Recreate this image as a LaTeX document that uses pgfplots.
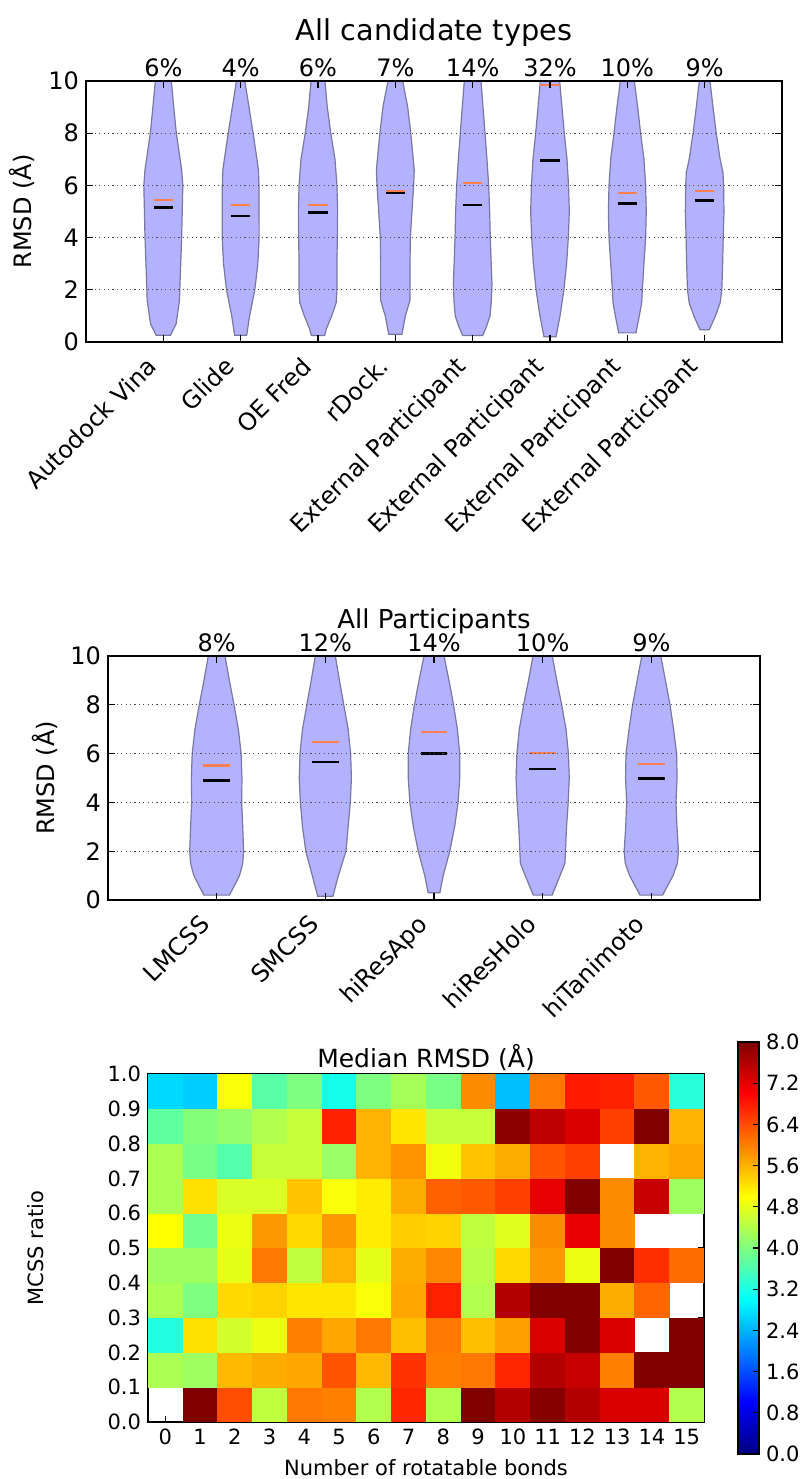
\documentclass[border=0pt]{standalone}
\usepackage{fontspec}
\setmainfont{DejaVu Sans}
\usepackage{pgfplots}
\pgfplotsset{compat=1.18}

\definecolor{vfill}{RGB}{178,178,255}
\definecolor{vedge}{RGB}{120,120,160}
\definecolor{meanc}{RGB}{255,127,80}

\pgfplotsset{
  /pgf/number format/assume math mode=true,
  violinax/.style={
    scale only axis, axis on top, clip=false,
    ymin=0, ymax=10, ytick={0,2,4,6,8,10},
    tick align=inside, xtick pos=both, ytick pos=both,
    major tick length=3.5pt,
    axis line style={line width=0.8pt},
    every tick/.style={black, line width=0.6pt},
    ymajorgrids, grid style={black!70, line width=0.6pt, dash pattern=on 0.6pt off 1.6pt},
    ticklabel style={font=\fontsize{12}{14}\selectfont},
    xticklabel style={xshift=-9pt, yshift=-5pt, rotate=45, anchor=north east, inner sep=1pt},
    ylabel={RMSD (Å)},
    label style={font=\fontsize{12}{14}\selectfont},
    title style={at={(0.5,1)}, anchor=base},
  },
  vio/.style={fill=vfill, draw=vedge, line width=0.6pt},
  med/.style={black, line width=1.2pt, unbounded coords=jump},
  mea/.style={meanc, line width=1.1pt, unbounded coords=jump},
  pct/.style={draw=none, mark=none, nodes near coords, point meta=explicit symbolic,
    every node near coord/.style={anchor=base, yshift=2pt, inner sep=0pt, font=\fontsize{12}{14}\selectfont}},
}

\pgfplotstableread{
x y v
1 0.05 8.0
2 0.05 6.4
3 0.05 4.5
4 0.05 6.05
5 0.05 6.0
6 0.05 4.4
7 0.05 6.7
8 0.05 4.4
9 0.05 8.0
10 0.05 7.6
11 0.05 7.95
12 0.05 7.6
13 0.05 7.3
14 0.05 7.3
15 0.05 4.4
0 0.15 4.35
1 0.15 4.25
2 0.15 5.55
3 0.15 5.65
4 0.15 5.7
5 0.15 6.35
6 0.15 5.55
7 0.15 6.6
8 0.15 6.0
9 0.15 6.05
10 0.15 6.7
11 0.15 7.6
12 0.15 7.45
13 0.15 6.0
14 0.15 8.0
15 0.15 8.0
0 0.25 3.25
1 0.25 5.25
2 0.25 4.65
3 0.25 4.85
4 0.25 6.0
5 0.25 5.7
6 0.25 6.05
7 0.25 5.5
8 0.25 6.05
9 0.25 5.5
10 0.25 5.75
11 0.25 7.3
12 0.25 8.0
13 0.25 7.3
15 0.25 8.0
0 0.35 4.35
1 0.35 4.0
2 0.35 5.3
3 0.35 5.35
4 0.35 5.2
5 0.35 5.2
6 0.35 4.95
7 0.35 5.7
8 0.35 6.75
9 0.35 4.4
10 0.35 7.6
11 0.35 8.0
12 0.35 8.0
13 0.35 5.65
14 0.35 6.2
0 0.45 4.25
1 0.45 4.25
2 0.45 4.8
3 0.45 6.05
4 0.45 4.5
5 0.45 5.6
6 0.45 4.8
7 0.45 5.65
8 0.45 5.95
9 0.45 4.45
10 0.45 5.3
11 0.45 5.8
12 0.45 4.85
13 0.45 8.0
14 0.45 6.65
15 0.45 6.15
0 0.55 5.0
1 0.55 3.9
2 0.55 4.85
3 0.55 5.8
4 0.55 5.3
5 0.55 5.8
6 0.55 5.15
7 0.55 5.4
8 0.55 5.35
9 0.55 4.5
10 0.55 4.75
11 0.55 5.9
12 0.55 7.2
13 0.55 5.9
0 0.65 4.35
1 0.65 5.25
2 0.65 4.7
3 0.65 4.7
4 0.65 5.45
5 0.65 4.95
6 0.65 5.15
7 0.65 5.65
8 0.65 6.25
9 0.65 6.3
10 0.65 6.5
11 0.65 7.2
12 0.65 8.0
13 0.65 5.9
14 0.65 7.45
15 0.65 4.25
0 0.75 4.35
1 0.75 3.95
2 0.75 3.65
3 0.75 4.55
4 0.75 4.55
5 0.75 4.2
6 0.75 5.6
7 0.75 5.85
8 0.75 4.9
9 0.75 5.45
10 0.75 5.65
11 0.75 6.35
12 0.75 6.5
14 0.75 5.6
15 0.75 5.7
0 0.85 3.75
1 0.85 4.05
2 0.85 4.15
3 0.85 4.4
4 0.85 4.55
5 0.85 6.75
6 0.85 5.6
7 0.85 5.2
8 0.85 4.55
9 0.85 4.55
10 0.85 7.9
11 0.85 7.5
12 0.85 7.3
13 0.85 6.5
14 0.85 8.0
15 0.85 5.6
0 0.95 2.7
1 0.95 2.6
2 0.95 4.95
3 0.95 3.7
4 0.95 4.0
5 0.95 3.15
6 0.95 4.0
7 0.95 4.3
8 0.95 3.95
9 0.95 5.9
10 0.95 2.5
11 0.95 6.05
12 0.95 6.8
13 0.95 6.75
14 0.95 6.3
15 0.95 3.3
}\heatdata

\begin{document}
\begin{tikzpicture}
\useasboundingbox (0,0) rectangle (402pt,739.5pt);

% --- all candidate types
\begin{axis}[violinax, at={(43pt,568.5pt)}, anchor=south west,
  width=348pt, height=130.5pt,
  xmin=0, xmax=9, xtick={1,2,3,4,5,6,7,8},
  xticklabels={Autodock Vina,Glide,OE Fred,rDock.,External Participant,External Participant,External Participant,External Participant},
  title={All candidate types},
  title style={font=\fontsize{14.4}{16}\selectfont, yshift=14.25pt},
  ylabel style={at={(axis description cs:-0.092,0.5)}, anchor=center},
]
\addplot[vio] coordinates {(0.907,0.26) (0.834,0.7) (0.791,1.6) (0.787,2) (0.763,4) (0.748,6) (0.763,6.6) (0.832,8) (0.865,9) (0.897,10)
  (1.103,10) (1.135,9) (1.168,8) (1.237,6.6) (1.252,6) (1.237,4) (1.213,2) (1.209,1.6) (1.166,0.7) (1.093,0.26)} -- cycle;
\addplot[vio] coordinates {(1.922,0.26) (1.884,1) (1.817,2) (1.778,3) (1.761,4) (1.763,6) (1.77,6.6) (1.789,7) (1.839,8) (1.892,9) (1.946,10)
  (2.054,10) (2.108,9) (2.161,8) (2.211,7) (2.23,6.6) (2.237,6) (2.239,4) (2.222,3) (2.183,2) (2.116,1) (2.078,0.26)} -- cycle;
\addplot[vio] coordinates {(2.914,0.25) (2.892,0.5) (2.823,1) (2.765,1.5) (2.755,2) (2.755,3) (2.75,4) (2.746,5) (2.755,6) (2.78,7) (2.835,8) (2.88,9) (2.91,10)
  (3.09,10) (3.12,9) (3.165,8) (3.22,7) (3.245,6) (3.254,5) (3.25,4) (3.245,3) (3.245,2) (3.235,1.5) (3.177,1) (3.108,0.5) (3.086,0.25)} -- cycle;
\addplot[vio] coordinates {(3.914,0.3) (3.87,1) (3.81,1.6) (3.81,2) (3.81,3) (3.806,4) (3.785,5) (3.763,6) (3.755,6.6) (3.768,7) (3.8,8) (3.84,9) (3.905,10)
  (4.095,10) (4.16,9) (4.2,8) (4.232,7) (4.245,6.6) (4.237,6) (4.215,5) (4.194,4) (4.19,3) (4.19,2) (4.19,1.6) (4.13,1) (4.086,0.3)} -- cycle;
\addplot[vio] coordinates {(4.87,0.25) (4.82,0.6) (4.775,1) (4.76,1.5) (4.75,2.2) (4.76,3) (4.772,4) (4.78,5) (4.793,6) (4.815,7) (4.84,8) (4.866,9) (4.892,10)
  (5.108,10) (5.134,9) (5.16,8) (5.185,7) (5.207,6) (5.22,5) (5.228,4) (5.24,3) (5.25,2.2) (5.24,1.5) (5.225,1) (5.18,0.6) (5.13,0.25)} -- cycle;
\addplot[vio] coordinates {(5.922,0.2) (5.87,1) (5.82,2) (5.785,3) (5.763,4) (5.75,5) (5.76,6) (5.78,7) (5.815,8) (5.845,9) (5.875,10)
  (6.125,10) (6.155,9) (6.185,8) (6.22,7) (6.24,6) (6.25,5) (6.237,4) (6.215,3) (6.18,2) (6.13,1) (6.078,0.2)} -- cycle;
\addplot[vio] coordinates {(6.888,0.35) (6.845,1) (6.815,1.5) (6.806,2) (6.785,3) (6.763,4) (6.755,5) (6.763,6) (6.785,7) (6.828,8) (6.866,9) (6.91,10)
  (7.09,10) (7.134,9) (7.172,8) (7.215,7) (7.237,6) (7.245,5) (7.237,4) (7.215,3) (7.194,2) (7.185,1.5) (7.155,1) (7.112,0.35)} -- cycle;
\addplot[vio] coordinates {(7.94,0.47) (7.86,1) (7.8,1.5) (7.778,2) (7.767,3) (7.76,4) (7.75,5) (7.755,6) (7.763,6.5) (7.8,7) (7.85,8) (7.892,9) (7.931,10)
  (8.069,10) (8.108,9) (8.15,8) (8.2,7) (8.237,6.5) (8.245,6) (8.25,5) (8.24,4) (8.233,3) (8.222,2) (8.2,1.5) (8.14,1) (8.06,0.47)} -- cycle;
% means and medians
\addplot[mea] coordinates {(0.875,5.43) (1.125,5.43) (1,nan) (1.875,5.25) (2.125,5.25) (2,nan) (2.875,5.25) (3.125,5.25) (3,nan)
  (3.875,5.80) (4.125,5.80) (4,nan) (4.875,6.09) (5.125,6.09) (5,nan) (5.875,9.85) (6.125,9.85) (6,nan)
  (6.875,5.70) (7.125,5.70) (7,nan) (7.875,5.77) (8.125,5.77)};
\addplot[med] coordinates {(0.875,5.15) (1.125,5.15) (1,nan) (1.875,4.83) (2.125,4.83) (2,nan) (2.875,4.96) (3.125,4.96) (3,nan)
  (3.875,5.70) (4.125,5.70) (4,nan) (4.875,5.24) (5.125,5.24) (5,nan) (5.875,6.96) (6.125,6.96) (6,nan)
  (6.875,5.30) (7.125,5.30) (7,nan) (7.875,5.42) (8.125,5.42)};
\addplot[pct] coordinates {(1,10) [6\%] (2,10) [4\%] (3,10) [6\%] (4,10) [7\%] (5,10) [14\%] (6,10) [32\%] (7,10) [10\%] (8,10) [9\%]};
\end{axis}

% --- all participants
\begin{axis}[violinax, at={(54pt,289.5pt)}, anchor=south west,
  width=326pt, height=122pt,
  xmin=0, xmax=6, xtick={1,2,3,4,5},
  xticklabels={LMCSS,SMCSS,hiResApo,hiResHolo,hiTanimoto},
  title={All Participants},
  title style={font=\fontsize{13}{15}\selectfont, yshift=7.5pt},
  ylabel style={at={(axis description cs:-0.0966,0.5)}, anchor=center},
]
\addplot[vio] coordinates {(0.883,0.2) (0.847,0.5) (0.79,1) (0.76,1.5) (0.752,2) (0.76,3) (0.77,4) (0.767,5) (0.775,6) (0.8,7) (0.84,8) (0.883,9) (0.923,10)
  (1.077,10) (1.117,9) (1.16,8) (1.2,7) (1.225,6) (1.233,5) (1.23,4) (1.24,3) (1.248,2) (1.24,1.5) (1.21,1) (1.153,0.5) (1.117,0.2)} -- cycle;
\addplot[vio] coordinates {(1.93,0.15) (1.88,1) (1.82,2) (1.79,3) (1.77,4) (1.76,5) (1.767,6) (1.79,7) (1.83,8) (1.87,9) (1.908,10)
  (2.092,10) (2.13,9) (2.17,8) (2.21,7) (2.233,6) (2.24,5) (2.23,4) (2.21,3) (2.19,2) (2.12,1) (2.07,0.15)} -- cycle;
\addplot[vio] coordinates {(2.946,0.3) (2.915,1) (2.855,2) (2.81,3) (2.778,4) (2.763,5) (2.763,6) (2.785,7) (2.82,8) (2.862,9) (2.908,10)
  (3.092,10) (3.138,9) (3.18,8) (3.215,7) (3.237,6) (3.237,5) (3.222,4) (3.19,3) (3.145,2) (3.085,1) (3.054,0.3)} -- cycle;
\addplot[vio] coordinates {(3.913,0.2) (3.84,1) (3.795,1.5) (3.79,2) (3.78,3) (3.765,4) (3.755,5) (3.763,6) (3.785,7) (3.825,8) (3.87,9) (3.911,10)
  (4.089,10) (4.13,9) (4.175,8) (4.215,7) (4.237,6) (4.245,5) (4.235,4) (4.22,3) (4.21,2) (4.205,1.5) (4.16,1) (4.087,0.2)} -- cycle;
\addplot[vio] coordinates {(4.896,0.2) (4.8,1) (4.76,1.5) (4.75,2) (4.764,3) (4.773,4) (4.763,5) (4.767,6) (4.795,7) (4.828,8) (4.87,9) (4.913,10)
  (5.087,10) (5.13,9) (5.172,8) (5.205,7) (5.233,6) (5.237,5) (5.227,4) (5.236,3) (5.25,2) (5.24,1.5) (5.2,1) (5.104,0.2)} -- cycle;
\addplot[mea] coordinates {(0.877,5.51) (1.123,5.51) (1,nan) (1.877,6.49) (2.123,6.49) (2,nan) (2.877,6.89) (3.123,6.89) (3,nan)
  (3.877,6.04) (4.123,6.04) (4,nan) (4.877,5.57) (5.123,5.57)};
\addplot[med] coordinates {(0.877,4.90) (1.123,4.90) (1,nan) (1.877,5.66) (2.123,5.66) (2,nan) (2.877,6.00) (3.123,6.00) (3,nan)
  (3.877,5.38) (4.123,5.38) (4,nan) (4.877,4.98) (5.123,4.98)};
\addplot[pct] coordinates {(1,10) [8\%] (2,10) [12\%] (3,10) [14\%] (4,10) [10\%] (5,10) [9\%]};
\end{axis}

% --- heat map
\begin{axis}[scale only axis, axis on top, at={(74pt,28.5pt)}, anchor=south west,
  width=278pt, height=174pt,
  xmin=-0.5, xmax=15.5, ymin=0, ymax=1,
  xtick={0,1,2,3,4,5,6,7,8,9,10,11,12,13,14,15},
  ytick={0,0.1,0.2,0.3,0.4,0.5,0.6,0.7,0.8,0.9,1},
  yticklabel style={/pgf/number format/.cd, fixed, fixed zerofill, precision=1},
  tick align=inside, xtick pos=both, ytick pos=both,
  major tick length=3pt,
  axis line style={line width=0.8pt},
  every tick/.style={black, line width=0.6pt},
  ticklabel style={font=\fontsize{10.5}{12}\selectfont},
  label style={font=\fontsize{10.5}{12}\selectfont},
  title={Median RMSD (Å)},
  title style={font=\fontsize{12.5}{14}\selectfont, at={(0.5,1)}, anchor=base, yshift=-2.5pt},
  xlabel={Number of rotatable bonds},
  xlabel style={at={(axis description cs:0.5,0)}, anchor=center, yshift=-23pt},
  ylabel={MCSS ratio},
  ylabel style={at={(axis description cs:-0.2014,0.5)}, anchor=center},
  colormap/jet, point meta min=0, point meta max=8,
  colorbar,
  colorbar style={scale only axis, width=10.5pt, height=206pt,
    at={(parent axis.east)}, anchor=west, xshift=8.5pt,
    ytick={0,0.8,1.6,2.4,3.2,4,4.8,5.6,6.4,7.2,8},
    yticklabel style={font=\fontsize{10.5}{12}\selectfont, /pgf/number format/.cd, fixed, fixed zerofill, precision=1},
    tick align=inside, ytick pos=right, yticklabel pos=right,
    major tick length=3pt,
    axis line style={line width=0.8pt},
    every tick/.style={black, line width=0.6pt}},
]
\addplot[scatter, only marks, mark=square*, mark size=8.55pt, point meta=explicit,
  scatter/use mapped color={draw=mapped color, fill=mapped color}]
  table[x=x, y=y, meta=v] {\heatdata};
\end{axis}
\end{tikzpicture}
\end{document}
